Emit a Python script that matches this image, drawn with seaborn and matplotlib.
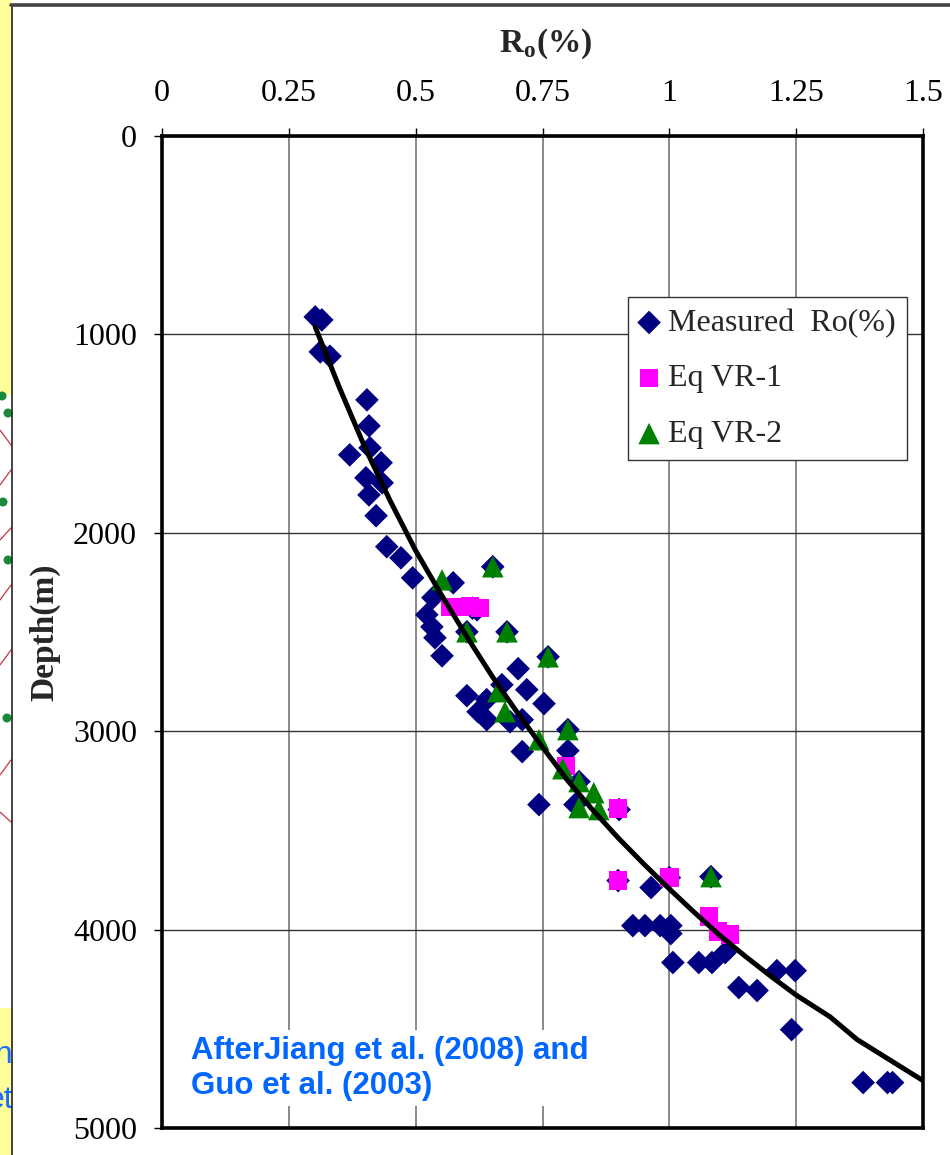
import numpy as np
import pandas as pd
import matplotlib
matplotlib.use("Agg")
import matplotlib.pyplot as plt
import seaborn as sns
from matplotlib.patches import Rectangle, Ellipse
from matplotlib.lines import Line2D

# ---------------- data ----------------
measured_ro = [0.302, 0.315, 0.312, 0.331, 0.404, 0.408, 0.370, 0.410, 0.432, 0.402,
               0.434, 0.408, 0.422, 0.443, 0.471, 0.494, 0.574, 0.652, 0.534, 0.621,
               0.612, 0.522, 0.532, 0.538, 0.552, 0.601, 0.680, 0.761, 0.702, 0.719,
               0.753, 0.670, 0.601, 0.640, 0.623, 0.640, 0.710, 0.686, 0.800, 0.710,
               0.800, 0.822, 0.743, 0.814, 0.901, 0.899, 0.964, 1.000, 1.082, 0.928,
               0.952, 0.982, 1.003, 1.003, 1.007, 1.058, 1.084, 1.110, 1.137, 1.173,
               1.212, 1.248, 1.241, 1.382, 1.430, 1.440]
measured_depth = [912, 927, 1088, 1110, 1330, 1461, 1607, 1572, 1647, 1723,
                  1748, 1809, 1914, 2070, 2126, 2227, 2252, 2171, 2327, 2388,
                  2380, 2413, 2474, 2529, 2620, 2499, 2499, 2625, 2685, 2791,
                  2861, 2766, 2821, 2841, 2902, 2942, 2942, 2952, 2992, 3103,
                  3098, 3254, 3370, 3370, 3395, 3753, 3788, 3738, 3733, 3980,
                  3980, 3980, 3980, 4020, 4166, 4166, 4166, 4116, 4292, 4307,
                  4207, 4207, 4504, 4771, 4771, 4771]

vr1_ro = [0.568, 0.587, 0.607, 0.627, 0.796, 0.899, 0.899, 1.000, 1.078, 1.096, 1.120]
vr1_depth = [2373, 2373, 2368, 2378, 3174, 3390, 3753, 3738, 3934, 4010, 4025]

vr2_ro = [0.552, 0.652, 0.601, 0.680, 0.761, 0.662, 0.676, 0.743, 0.800, 0.790,
          0.822, 0.851, 0.822, 0.861, 1.082]
vr2_depth = [2237, 2171, 2499, 2499, 2625, 2801, 2902, 3043, 2992, 3189,
             3254, 3310, 3385, 3395, 3733]

curve_ro = [0.302, 0.35, 0.40, 0.45, 0.50, 0.55, 0.60, 0.65, 0.70, 0.75, 0.80,
            0.85, 0.90, 0.95, 1.00, 1.05, 1.10, 1.15, 1.20, 1.25, 1.317, 1.37, 1.503]
curve_depth = [962, 1270, 1570, 1840, 2090, 2310, 2520, 2720, 2905, 3080, 3250,
               3400, 3540, 3670, 3795, 3915, 4030, 4135, 4235, 4330, 4440, 4554, 4766]

x_ticks = [0, 0.25, 0.5, 0.75, 1, 1.25, 1.5]
x_tick_labels = ["0", "0.25", "0.5", "0.75", "1", "1.25", "1.5"]
y_ticks = [0, 1000, 2000, 3000, 4000, 5000]
y_tick_labels = ["0", "1000", "2000", "3000", "4000", "5000"]

series_labels = ["Measured  Ro(%)", "Eq VR-1", "Eq VR-2"]

# ---------------- style ----------------
sns.set_style("white")
plt.rcParams["font.family"] = ["Liberation Serif", "DejaVu Serif"]
plt.rcParams["mathtext.fontset"] = "custom"
plt.rcParams["mathtext.rm"] = "Liberation Serif"
plt.rcParams["mathtext.bf"] = "Liberation Serif:bold"

W, H = 950, 1155
fig = plt.figure(figsize=(W / 100, H / 100), dpi=100)
fig.patch.set_facecolor("white")

def fx(px):
    return px / W

def fy(py):
    return 1 - py / H

# slide remnants on the left edge
fig.patches.append(Rectangle((0, fy(395)), fx(12), 395 / H, transform=fig.transFigure,
                             facecolor="#FFFF99", edgecolor="none", zorder=-5))
fig.patches.append(Rectangle((0, 0), fx(12), (H - 1008) / H, transform=fig.transFigure,
                             facecolor="#FFFF99", edgecolor="none", zorder=-5))
for (dx, dy) in [(2, 396), (8, 413), (3, 502), (8, 560), (7, 718)]:
    fig.patches.append(Ellipse((fx(dx), fy(dy)), fx(9), 9 / H, transform=fig.transFigure,
                               facecolor="#1a8a3a", edgecolor="none", zorder=-4))
for (y0, y1) in [(430, 445), (485, 470), (540, 528), (600, 585), (665, 650), (775, 760), (812, 822)]:
    fig.lines.append(Line2D([fx(0), fx(11)], [fy(y0), fy(y1)], transform=fig.transFigure,
                            color="#cc3344", lw=0.9, zorder=-4))
fig.text(fx(13), fy(1055), "on", ha="right", va="center", fontsize=23,
         family="Liberation Sans", color="#1a6cff", zorder=-4)
fig.text(fx(13), fy(1100), "et", ha="right", va="center", fontsize=23,
         family="Liberation Sans", color="#1a6cff", zorder=-4)
fig.patches.append(Rectangle((fx(12), 0), 1 - fx(12), fy(5), transform=fig.transFigure,
                             facecolor="white", edgecolor="none", zorder=-3))
fig.lines.append(Line2D([fx(11.5), fx(11.5)], [0, fy(5)], transform=fig.transFigure,
                        color="#222222", lw=1.2, zorder=-2))
fig.lines.append(Line2D([fx(11), 1], [fy(5), fy(5)], transform=fig.transFigure,
                        color="#444444", lw=2.6, zorder=-2))

# ---------------- axes ----------------
ax = fig.add_axes([fx(162), fy(1128), (923 - 162) / W, (1128 - 136) / H])
ax.set_facecolor("white")

sns.scatterplot(x=measured_ro, y=measured_depth, marker="D", s=145, color="#000080",
                edgecolor="none", linewidth=0, label=series_labels[0], ax=ax, zorder=3)
sns.scatterplot(x=vr1_ro, y=vr1_depth, marker="s", s=175, color="#FF00FF",
                edgecolor="none", linewidth=0, label=series_labels[1], ax=ax, zorder=4)
sns.scatterplot(x=vr2_ro, y=vr2_depth, marker="^", s=240, color="#008000",
                edgecolor="none", linewidth=0, label=series_labels[2], ax=ax, zorder=5)
sns.lineplot(x=curve_ro, y=curve_depth, sort=False, estimator=None, color="black",
             lw=3.6, ax=ax, zorder=6)

ax.set_xlim(0, 1.5)
ax.set_ylim(5000, 0)
ax.set_xticks(x_ticks)
ax.set_xticklabels(x_tick_labels)
ax.set_yticks(y_ticks)
ax.set_yticklabels(y_tick_labels)
ax.xaxis.tick_top()
ax.tick_params(axis="x", top=True, bottom=False, direction="out", length=6, width=1,
               pad=14, labelsize=23, colors="black")
ax.tick_params(axis="y", left=True, direction="out", length=6, width=1,
               pad=12, labelsize=23, colors="black")
ax.set_xlabel("")
ax.set_ylabel("")

ax.set_axisbelow(True)
ax.xaxis.grid(True, color="#808080", lw=1.3)
ax.yaxis.grid(True, color="#333333", lw=1.0)
for s in ax.spines.values():
    s.set_visible(True)
    s.set_color("black")
    s.set_linewidth(2.6)

leg = ax.legend(loc="upper left", bbox_to_anchor=((628 - 162) / 761, (1128 - 297) / 992),
                fontsize=23, frameon=True, fancybox=False, framealpha=1,
                edgecolor="#333333", borderpad=0.36, labelspacing=0.82,
                handlelength=0.6, handletextpad=0.3, borderaxespad=0)
leg.get_frame().set_linewidth(1.0)

ax.text((191 - 162) / 761, (1128 - 1036) / 992,
        "AfterJiang et al. (2008) and\nGuo et al. (2003)",
        transform=ax.transAxes, ha="left", va="top", fontsize=22.5,
        family="Liberation Sans", fontweight="bold", color="#0066FF",
        bbox=dict(facecolor="white", edgecolor="none", pad=4), zorder=7)

fig.text(fx(546), fy(44), r"R$_{\mathbf{o}}$(%)", ha="center", va="center",
         fontsize=24, fontweight="bold")
fig.text(fx(45), fy(632), "Depth(m)", ha="center", va="center", rotation=90,
         fontsize=24, fontweight="bold")

fig.savefig("out.png", dpi=100)
